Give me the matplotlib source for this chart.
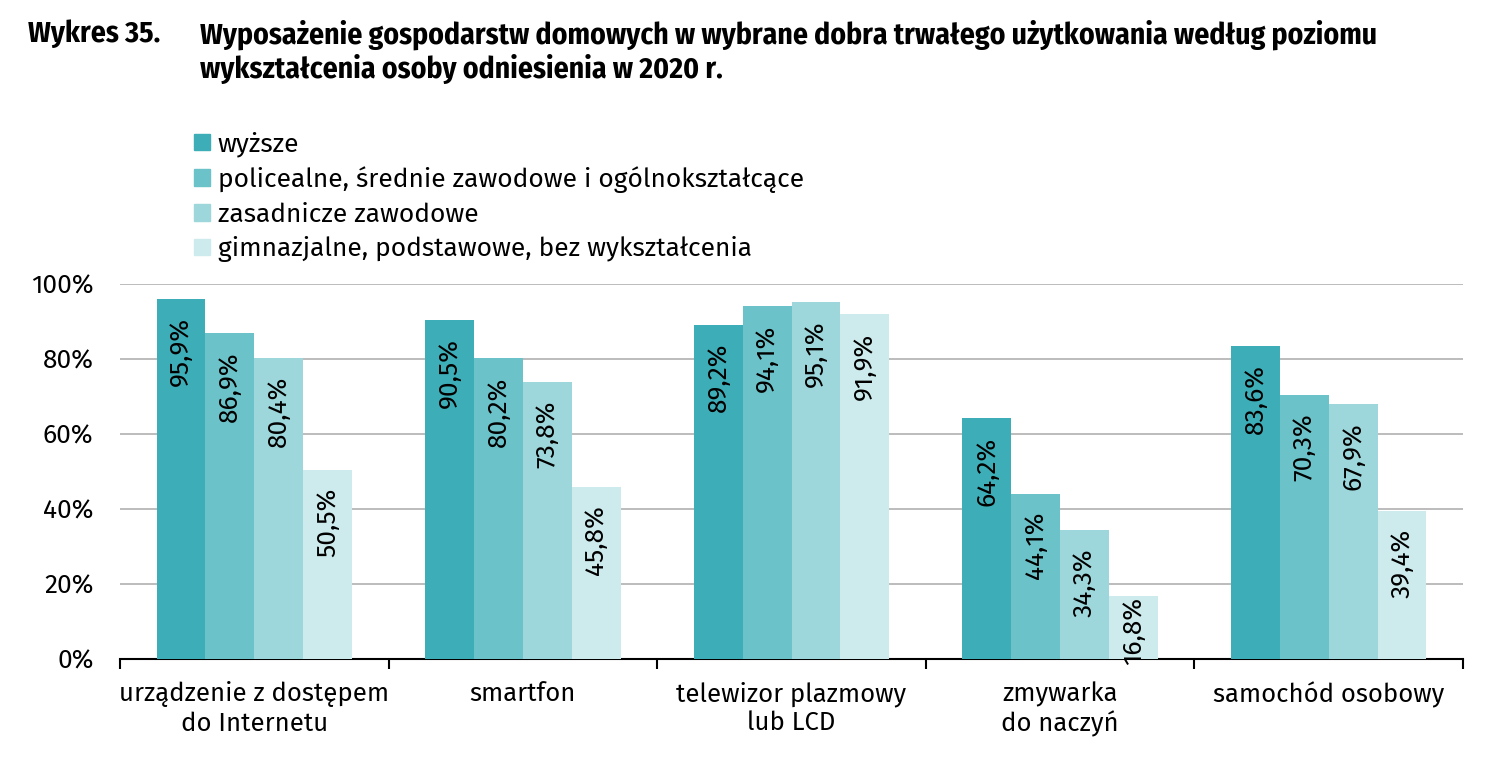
import matplotlib.pyplot as plt
import numpy as np
from matplotlib.patches import Patch

plt.rcParams["font.family"] = ["Fira Sans", "Open Sans", "DejaVu Sans"]

categories = ["urządzenie z dostępem\ndo Internetu", "smartfon",
              "telewizor plazmowy\nlub LCD", "zmywarka\ndo naczyń",
              "samochód osobowy"]
series = ["wyższe",
          "policealne, średnie zawodowe i ogólnokształcące",
          "zasadnicze zawodowe",
          "gimnazjalne, podstawowe, bez wykształcenia"]
wyzsze = [95.9, 90.5, 89.2, 64.2, 83.6]
policealne = [86.9, 80.2, 94.1, 44.1, 70.3]
zasadnicze = [80.4, 73.8, 95.1, 34.3, 67.9]
gimnazjalne = [50.5, 45.8, 91.9, 16.8, 39.4]
values = [wyzsze, policealne, zasadnicze, gimnazjalne]
colors = ["#3DAEB7", "#6BC3C9", "#9DD7DB", "#CDEBED"]

fig = plt.figure(figsize=(15.08, 7.74), dpi=100)
ax = fig.add_axes([120 / 1508, 1 - 659 / 774, 1343 / 1508, 375 / 774])

x = np.arange(len(categories))
w = 0.182
for i, (vals, c) in enumerate(zip(values, colors)):
    pos = x + (i - 1.5) * w
    ax.bar(pos, vals, width=w, color=c, zorder=3)
    for p, v in zip(pos, vals):
        # label sits inside the bar top, pushed up for short bars
        off = min(4.8, max(0.0, v - 16.5))
        ax.text(p, v - off, f"{v:.1f}%".replace(".", ","), rotation=90,
                ha="center", va="top", fontsize=19, zorder=4)

ax.set_xlim(-0.5, len(categories) - 0.5)
ax.set_ylim(0, 100)
ax.set_yticks(np.arange(0, 101, 20))
ax.set_yticklabels([f"{t}%" for t in range(0, 101, 20)], fontsize=19)
ax.yaxis.grid(True, color="#b0b0b0", linewidth=1.2, zorder=0)
ax.tick_params(axis="y", length=0, pad=19)
for s in ["left", "right", "top"]:
    ax.spines[s].set_visible(False)
ax.spines["bottom"].set_linewidth(1.5)

ax.set_xticks(np.arange(-0.5, len(categories), 1.0))
ax.set_xticklabels([])
ax.tick_params(axis="x", length=7, width=1.5)
ax.set_xticks(x, minor=True)
ax.set_xticklabels(categories, minor=True, fontsize=18.5, linespacing=1.2)
ax.tick_params(axis="x", which="minor", length=0, pad=16)

handles = [Patch(color=c) for c in colors]
fig.legend(handles, series, loc="upper left", bbox_to_anchor=(181 / 1508, 1 - 118 / 774),
           frameon=False, fontsize=19, handlelength=0.6, handleheight=0.6,
           handletextpad=0.3, labelspacing=0.35, borderpad=0)

title_font = ["Fira Sans Condensed", "Liberation Sans Narrow", "DejaVu Sans"]
fig.text(28 / 1508, 1 - 20 / 774, "Wykres 35.", fontsize=21.3, fontweight="bold",
         va="top", family=title_font)
fig.text(200 / 1508, 1 - 20 / 774,
         "Wyposażenie gospodarstw domowych w wybrane dobra trwałego użytkowania według poziomu\n"
         "wykształcenia osoby odniesienia w 2020 r.",
         fontsize=21.3, fontweight="bold", va="top", linespacing=1.15,
         family=title_font)

fig.savefig("out.png", dpi=100)
